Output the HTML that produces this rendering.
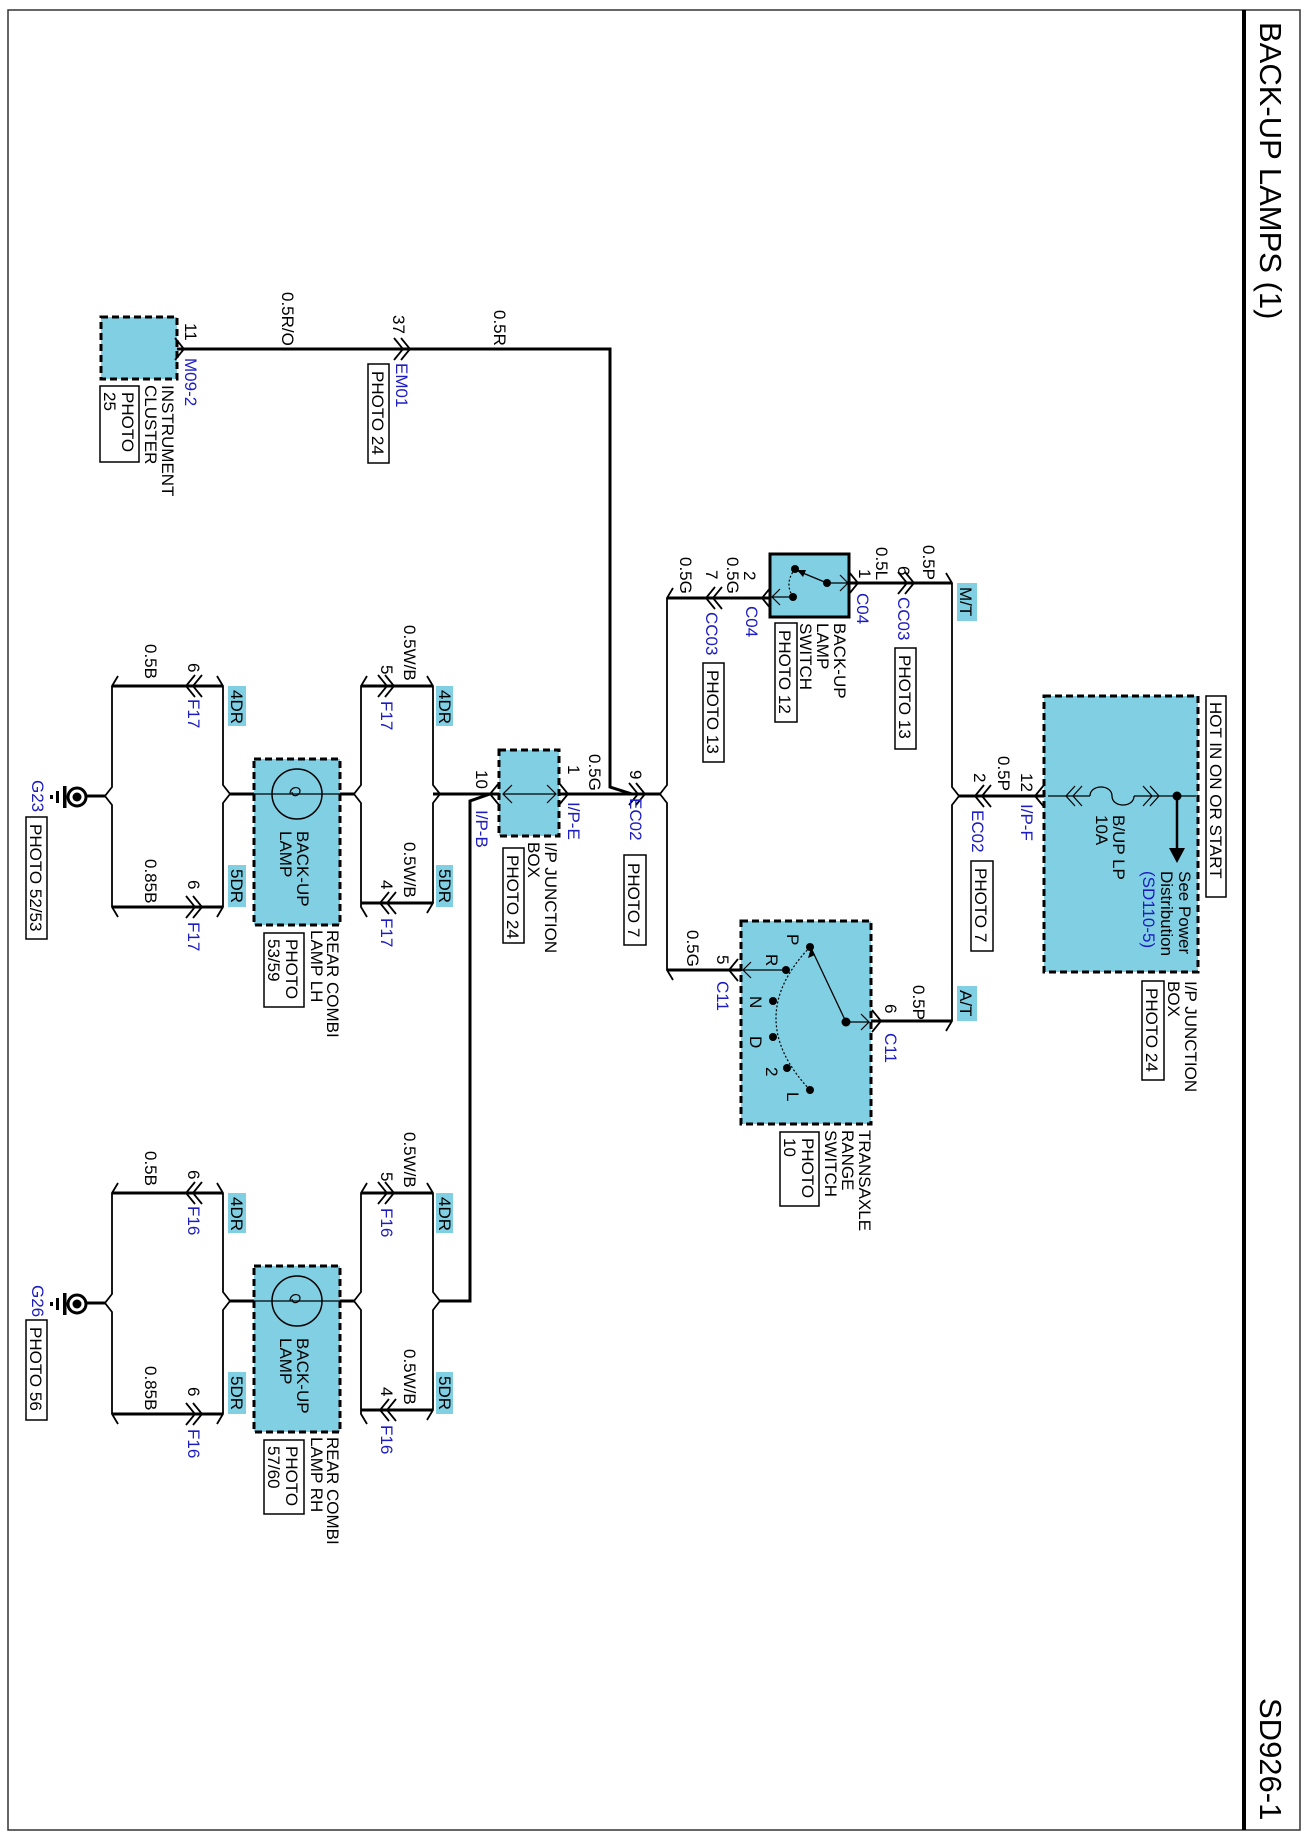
<!DOCTYPE html>
<html><head><meta charset="utf-8">
<style>
html,body{margin:0;padding:0;background:#fff;}
svg{display:block;}
text{font-family:"Liberation Sans",Arial,sans-serif;font-size:17px;fill:#000;}
.b{fill:#1c1cc0;}
.w{stroke:#000;stroke-width:3;fill:none;}
.t{stroke:#000;stroke-width:1.8;fill:none;}
.c{stroke:#000;stroke-width:1.8;fill:none;}
.d{fill:#80cfe3;stroke:#000;stroke-width:3;stroke-dasharray:7,4;}
.pb{fill:#fff;stroke:#000;stroke-width:1.5;}
.lb{fill:#80cfe3;}
</style></head>
<body>
<svg width="1308" height="1840" viewBox="0 0 1308 1840" xmlns="http://www.w3.org/2000/svg">
<rect x="8" y="10" width="1292" height="1820" fill="none" stroke="#333" stroke-width="1.5"/>
<line x1="1244" y1="10" x2="1244" y2="1830" stroke="#000" stroke-width="4"/>
<text style="font-size:31px" transform="translate(1260,22) rotate(90)">BACK-UP LAMPS (1)</text>
<text style="font-size:31px" transform="translate(1260,1698) rotate(90)">SD926-1</text>

<!-- Instrument cluster -->
<rect class="d" x="101" y="317" width="76" height="62"/>
<polyline class="w" points="177,349 610,349 610,787 632,794"/>
<polyline class="c" points="175,338 184,349 175,360"/>
<polyline class="c" points="394,338 403,349 394,360"/>
<polyline class="c" points="401,338 410,349 401,360"/>
<text transform="translate(185,323) rotate(90)">11</text>
<text transform="translate(282,292) rotate(90)">0.5R/O</text>
<text transform="translate(393,315) rotate(90)">37</text>
<text transform="translate(494,310) rotate(90)">0.5R</text>
<text class="b" transform="translate(185,358) rotate(90)">M09-2</text>
<text class="b" transform="translate(396,363) rotate(90)">EM01</text>
<text transform="translate(162,385) rotate(90)">INSTRUMENT</text>
<text transform="translate(145,385) rotate(90)">CLUSTER</text>
<rect class="pb" x="100" y="386" width="39" height="76"/>
<text transform="translate(122,392) rotate(90)">PHOTO</text>
<text transform="translate(104,392) rotate(90)">25</text>
<rect class="pb" x="368" y="364" width="21" height="99"/>
<text transform="translate(372,371) rotate(90)">PHOTO 24</text>

<!-- Small I/P junction box -->
<line class="w" x1="440" y1="794" x2="499" y2="794"/>
<line class="w" x1="559" y1="794" x2="660" y2="794"/>
<rect class="d" x="499" y="750" width="60" height="86"/>
<line class="t" x1="503" y1="794" x2="556" y2="794" style="stroke-width:1.2"/>
<polyline class="t" points="512,785 503,794 512,803" style="stroke-width:1.2"/>
<polyline class="t" points="547,785 556,794 547,803" style="stroke-width:1.2"/>
<polyline class="c" points="499,783 490,794 499,805"/>
<polyline class="c" points="559,783 568,794 559,805"/>
<polyline class="c" points="629,783 638,794 629,805"/>
<polyline class="c" points="636,783 645,794 636,805"/>
<text transform="translate(568,765) rotate(90)">1</text>
<text class="b" transform="translate(568,802) rotate(90)">I/P-E</text>
<text transform="translate(476,770) rotate(90)">10</text>
<text class="b" transform="translate(476,810) rotate(90)">I/P-B</text>
<text transform="translate(545,842) rotate(90)">I/P JUNCTION</text>
<text transform="translate(528,842) rotate(90)">BOX</text>
<rect class="pb" x="503" y="848" width="21" height="95"/>
<text transform="translate(507,855) rotate(90)">PHOTO 24</text>
<text transform="translate(589,754) rotate(90)">0.5G</text>
<text transform="translate(630,770) rotate(90)">9</text>
<text class="b" transform="translate(630,798) rotate(90)">EC02</text>
<rect class="pb" x="624" y="855" width="22" height="90"/>
<text transform="translate(628,863) rotate(90)">PHOTO 7</text>
<polyline class="w" points="490,794 470,801 470,1301 440,1301"/>

<!-- left vertical bus x=667 -->
<polyline class="t" points="673,588 667,598 667,785 660,794 667,803 667,970 673,980"/>
<line class="w" x1="667" y1="598" x2="770" y2="598"/>
<polyline class="c" points="715,587 706,598 715,609"/>
<polyline class="c" points="722,587 713,598 722,609"/>
<polyline class="c" points="771,587 762,598 771,609"/>
<text transform="translate(680,557) rotate(90)">0.5G</text>
<text transform="translate(706,570) rotate(90)">7</text>
<text transform="translate(727,557) rotate(90)">0.5G</text>
<text transform="translate(744,571) rotate(90)">2</text>
<text class="b" transform="translate(706,612) rotate(90)">CC03</text>
<text class="b" transform="translate(746,606) rotate(90)">C04</text>
<rect class="pb" x="703" y="663" width="21" height="99"/>
<text transform="translate(707,670) rotate(90)">PHOTO 13</text>

<!-- back-up lamp switch -->
<rect x="770" y="554" width="79" height="63" fill="#80cfe3" stroke="#000" stroke-width="3"/>
<circle cx="795" cy="569" r="4"/><circle cx="827" cy="583" r="4"/><circle cx="793" cy="597" r="4"/>
<line class="t" x1="827" y1="583" x2="798" y2="571" style="stroke-width:1.3"/>
<polygon points="797,570 806,570 803,577"/>
<path d="M795,569 Q784,583 793,597" fill="none" stroke="#000" stroke-width="1.2" stroke-dasharray="2,2"/>
<line class="t" x1="827" y1="583" x2="848" y2="583" style="stroke-width:1.2"/>
<polyline class="t" points="840,575 848,583 840,591" style="stroke-width:1.2"/>
<line class="t" x1="793" y1="597" x2="772" y2="597" style="stroke-width:1.2"/>
<polyline class="t" points="780,589 772,597 780,605" style="stroke-width:1.2"/>
<line class="w" x1="849" y1="583" x2="952" y2="583"/>
<polyline class="c" points="849,572 858,583 849,594"/>
<polyline class="c" points="898,572 907,583 898,594"/>
<polyline class="c" points="905,572 914,583 905,594"/>
<text transform="translate(859,569) rotate(90)">1</text>
<text transform="translate(876,547) rotate(90)">0.5L</text>
<text transform="translate(898,566) rotate(90)">6</text>
<text transform="translate(923,545) rotate(90)">0.5P</text>
<text class="b" transform="translate(857,593) rotate(90)">C04</text>
<text class="b" transform="translate(898,597) rotate(90)">CC03</text>
<rect class="pb" x="895" y="648" width="21" height="101"/>
<text transform="translate(899,655) rotate(90)">PHOTO 13</text>
<text transform="translate(834,623) rotate(90)">BACK-UP</text>
<text transform="translate(817,623) rotate(90)">LAMP</text>
<text transform="translate(800,623) rotate(90)">SWITCH</text>
<rect class="pb" x="775" y="623" width="22" height="99"/>
<text transform="translate(779,630) rotate(90)">PHOTO 12</text>

<!-- right vertical bus x=952 -->
<polyline class="t" points="946,573 952,583 952,787 959,796 952,805 952,1021 946,1031"/>
<rect class="lb" x="957" y="583" width="20" height="38"/>
<text transform="translate(960,587) rotate(90)">M/T</text>
<rect class="lb" x="957" y="986" width="20" height="35"/>
<text transform="translate(960,990) rotate(90)">A/T</text>
<line class="w" x1="959" y1="796" x2="1044" y2="796"/>
<polyline class="c" points="984,785 975,796 984,807"/>
<polyline class="c" points="991,785 982,796 991,807"/>
<polyline class="c" points="1044,785 1035,796 1044,807"/>
<text transform="translate(974,773) rotate(90)">2</text>
<text transform="translate(998,756) rotate(90)">0.5P</text>
<text transform="translate(1021,773) rotate(90)">12</text>
<text class="b" transform="translate(972,810) rotate(90)">EC02</text>
<text class="b" transform="translate(1021,804) rotate(90)">I/P-F</text>
<rect class="pb" x="971" y="861" width="22" height="90"/>
<text transform="translate(975,868) rotate(90)">PHOTO 7</text>

<!-- big junction box -->
<rect class="d" x="1044" y="696" width="154" height="276"/>
<line class="t" x1="1048" y1="796" x2="1090" y2="796" style="stroke-width:1.2"/>
<line class="t" x1="1134" y1="796" x2="1196" y2="796" style="stroke-width:1.2"/>
<polyline class="t" points="1075,786 1066,796 1075,806" style="stroke-width:1.2"/>
<polyline class="t" points="1082,786 1073,796 1082,806" style="stroke-width:1.2"/>
<polyline class="t" points="1143,786 1152,796 1143,806" style="stroke-width:1.2"/>
<polyline class="t" points="1150,786 1159,796 1150,806" style="stroke-width:1.2"/>
<path d="M1090,796 C1090,784 1112,784 1112,796 C1112,808 1134,808 1134,796" fill="none" stroke="#000" stroke-width="1.3"/>
<circle cx="1177" cy="796" r="4.5"/>
<line x1="1177" y1="796" x2="1177" y2="850" stroke="#000" stroke-width="2.5"/>
<polygon points="1169,848 1185,848 1177,863"/>
<rect class="pb" x="1206" y="696" width="20" height="201"/>
<text transform="translate(1210,702) rotate(90)">HOT IN ON OR START</text>
<text transform="translate(1113,815) rotate(90)">B/UP LP</text>
<text transform="translate(1096,815) rotate(90)">10A</text>
<text transform="translate(1179,871) rotate(90)">See Power</text>
<text transform="translate(1161,871) rotate(90)">Distribution</text>
<text class="b" transform="translate(1143,871) rotate(90)">(SD110-5)</text>
<text transform="translate(1185,981) rotate(90)">I/P JUNCTION</text>
<text transform="translate(1168,981) rotate(90)">BOX</text>
<rect class="pb" x="1142" y="981" width="22" height="99"/>
<text transform="translate(1146,988) rotate(90)">PHOTO 24</text>

<!-- transaxle range switch -->
<line class="w" x1="871" y1="1021" x2="952" y2="1021"/>
<line class="w" x1="667" y1="970" x2="741" y2="970"/>
<rect class="d" x="741" y="921" width="130" height="203"/>
<polyline class="c" points="872,1010 881,1021 872,1032"/>
<polyline class="c" points="738,959 729,970 738,981"/>
<path d="M810,947 Q742,1018 810,1090" fill="none" stroke="#000" stroke-width="1.2" stroke-dasharray="2,2"/>
<circle cx="810" cy="947" r="4"/><circle cx="786" cy="970" r="4"/><circle cx="773" cy="1001" r="4"/>
<circle cx="773" cy="1037" r="4"/><circle cx="787" cy="1068" r="4"/><circle cx="810" cy="1090" r="4"/>
<circle cx="846" cy="1022" r="4.5"/>
<line class="t" x1="846" y1="1022" x2="812" y2="950" style="stroke-width:1.3"/>
<polygon points="811,948 808,958 815,955"/>
<line class="t" x1="846" y1="1022" x2="869" y2="1022" style="stroke-width:1.2"/>
<polyline class="t" points="861,1014 869,1022 861,1030" style="stroke-width:1.2"/>
<line class="t" x1="786" y1="970" x2="743" y2="970" style="stroke-width:1.2"/>
<polyline class="t" points="751,962 743,970 751,978" style="stroke-width:1.2"/>
<text transform="translate(787,934) rotate(90)">P</text>
<text transform="translate(766,954) rotate(90)">R</text>
<text transform="translate(750,996) rotate(90)">N</text>
<text transform="translate(750,1036) rotate(90)">D</text>
<text transform="translate(766,1067) rotate(90)">2</text>
<text transform="translate(787,1092) rotate(90)">L</text>
<text transform="translate(913,985) rotate(90)">0.5P</text>
<text transform="translate(885,1004) rotate(90)">6</text>
<text class="b" transform="translate(885,1033) rotate(90)">C11</text>
<text transform="translate(717,955) rotate(90)">5</text>
<text transform="translate(687,930) rotate(90)">0.5G</text>
<text class="b" transform="translate(717,981) rotate(90)">C11</text>
<text transform="translate(859,1130) rotate(90)">TRANSAXLE</text>
<text transform="translate(842,1130) rotate(90)">RANGE</text>
<text transform="translate(825,1130) rotate(90)">SWITCH</text>
<rect class="pb" x="780" y="1132" width="39" height="74"/>
<text transform="translate(802,1138) rotate(90)">PHOTO</text>
<text transform="translate(784,1138) rotate(90)">10</text>

<!-- LH lamp section -->
<g id="lh">
<polyline class="t" points="427,676 433,686 433,785 440,794 433,803 433,903 427,913"/>
<polyline class="t" points="367,676 361,686 361,785 354,794 361,803 361,907 367,917"/>
<polyline class="t" points="217,676 223,686 223,785 230,794 223,803 223,907 217,917"/>
<polyline class="t" points="118,676 112,686 112,787 105,796 112,805 112,907 118,917"/>
<line class="w" x1="112" y1="686" x2="223" y2="686"/>
<line class="w" x1="361" y1="686" x2="433" y2="686"/>
<line class="w" x1="112" y1="907" x2="223" y2="907"/>
<line class="w" x1="361" y1="903" x2="433" y2="903"/>
<polyline class="c" points="195,675 186,686 195,697"/>
<polyline class="c" points="202,675 193,686 202,697"/>
<polyline class="c" points="378,675 387,686 378,697"/>
<polyline class="c" points="385,675 394,686 385,697"/>
<polyline class="c" points="186,896 195,907 186,918"/>
<polyline class="c" points="193,896 202,907 193,918"/>
<polyline class="c" points="389,892 380,903 389,914"/>
<polyline class="c" points="396,892 387,903 396,914"/>
<line class="w" x1="230" y1="794" x2="254" y2="794"/>
<line class="w" x1="340" y1="794" x2="354" y2="794"/>
<rect class="d" x="254" y="759" width="86" height="166"/>
<line class="t" x1="254" y1="794" x2="340" y2="794" style="stroke-width:1.3"/>
<circle cx="297" cy="794" r="25" fill="none" stroke="#000" stroke-width="1.5"/>
<path d="M290,794 C290,786 300,786 300,791 C300,796 292,798 292,792" fill="none" stroke="#000" stroke-width="1.2"/>
<rect class="lb" x="436" y="686" width="17" height="40"/>
<rect class="lb" x="228" y="686" width="18" height="40"/>
<rect class="lb" x="436" y="865" width="17" height="42"/>
<rect class="lb" x="228" y="865" width="18" height="42"/>
<text transform="translate(439,690) rotate(90)">4DR</text>
<text transform="translate(231,690) rotate(90)">4DR</text>
<text transform="translate(439,869) rotate(90)">5DR</text>
<text transform="translate(231,869) rotate(90)">5DR</text>
<text transform="translate(404,625) rotate(90)">0.5W/B</text>
<text transform="translate(381,665) rotate(90)">5</text>
<text transform="translate(404,842) rotate(90)">0.5W/B</text>
<text transform="translate(381,880) rotate(90)">4</text>
<text transform="translate(145,644) rotate(90)">0.5B</text>
<text transform="translate(188,663) rotate(90)">6</text>
<text transform="translate(145,859) rotate(90)">0.85B</text>
<text transform="translate(188,880) rotate(90)">6</text>
<text transform="translate(297,831) rotate(90)">BACK-UP</text>
<text transform="translate(280,831) rotate(90)">LAMP</text>
<text transform="translate(327,930) rotate(90)">REAR COMBI</text>
<rect class="pb" x="264" y="933" width="40" height="74"/>
<text transform="translate(286,939) rotate(90)">PHOTO</text>
<line class="w" x1="86" y1="796" x2="105" y2="796"/>
<circle cx="77" cy="797" r="9" fill="#fff" stroke="#000" stroke-width="3"/>
<circle cx="77" cy="797" r="4.5"/>
<rect x="63" y="786" width="3.5" height="22"/>
<rect x="56" y="791" width="3" height="12"/>
<rect x="50" y="795" width="3" height="4"/>
</g>
<use href="#lh" transform="translate(0,507)"/>
<line class="w" x1="440" y1="794" x2="433" y2="794"/>

<!-- LH specific texts -->
<text class="b" transform="translate(381,701) rotate(90)">F17</text>
<text class="b" transform="translate(381,918) rotate(90)">F17</text>
<text class="b" transform="translate(188,699) rotate(90)">F17</text>
<text class="b" transform="translate(188,922) rotate(90)">F17</text>
<text transform="translate(311,930) rotate(90)">LAMP LH</text>
<text transform="translate(268,939) rotate(90)">53/59</text>
<text class="b" transform="translate(32,780) rotate(90)">G23</text>
<rect class="pb" x="26" y="817" width="21" height="122"/>
<text transform="translate(30,824) rotate(90)">PHOTO 52/53</text>

<!-- RH specific texts -->
<text class="b" transform="translate(381,1208) rotate(90)">F16</text>
<text class="b" transform="translate(381,1425) rotate(90)">F16</text>
<text class="b" transform="translate(188,1206) rotate(90)">F16</text>
<text class="b" transform="translate(188,1429) rotate(90)">F16</text>
<text transform="translate(311,1437) rotate(90)">LAMP RH</text>
<text transform="translate(268,1446) rotate(90)">57/60</text>
<text class="b" transform="translate(32,1285) rotate(90)">G26</text>
<rect class="pb" x="26" y="1320" width="21" height="100"/>
<text transform="translate(30,1327) rotate(90)">PHOTO 56</text>
</svg>
</body></html>
